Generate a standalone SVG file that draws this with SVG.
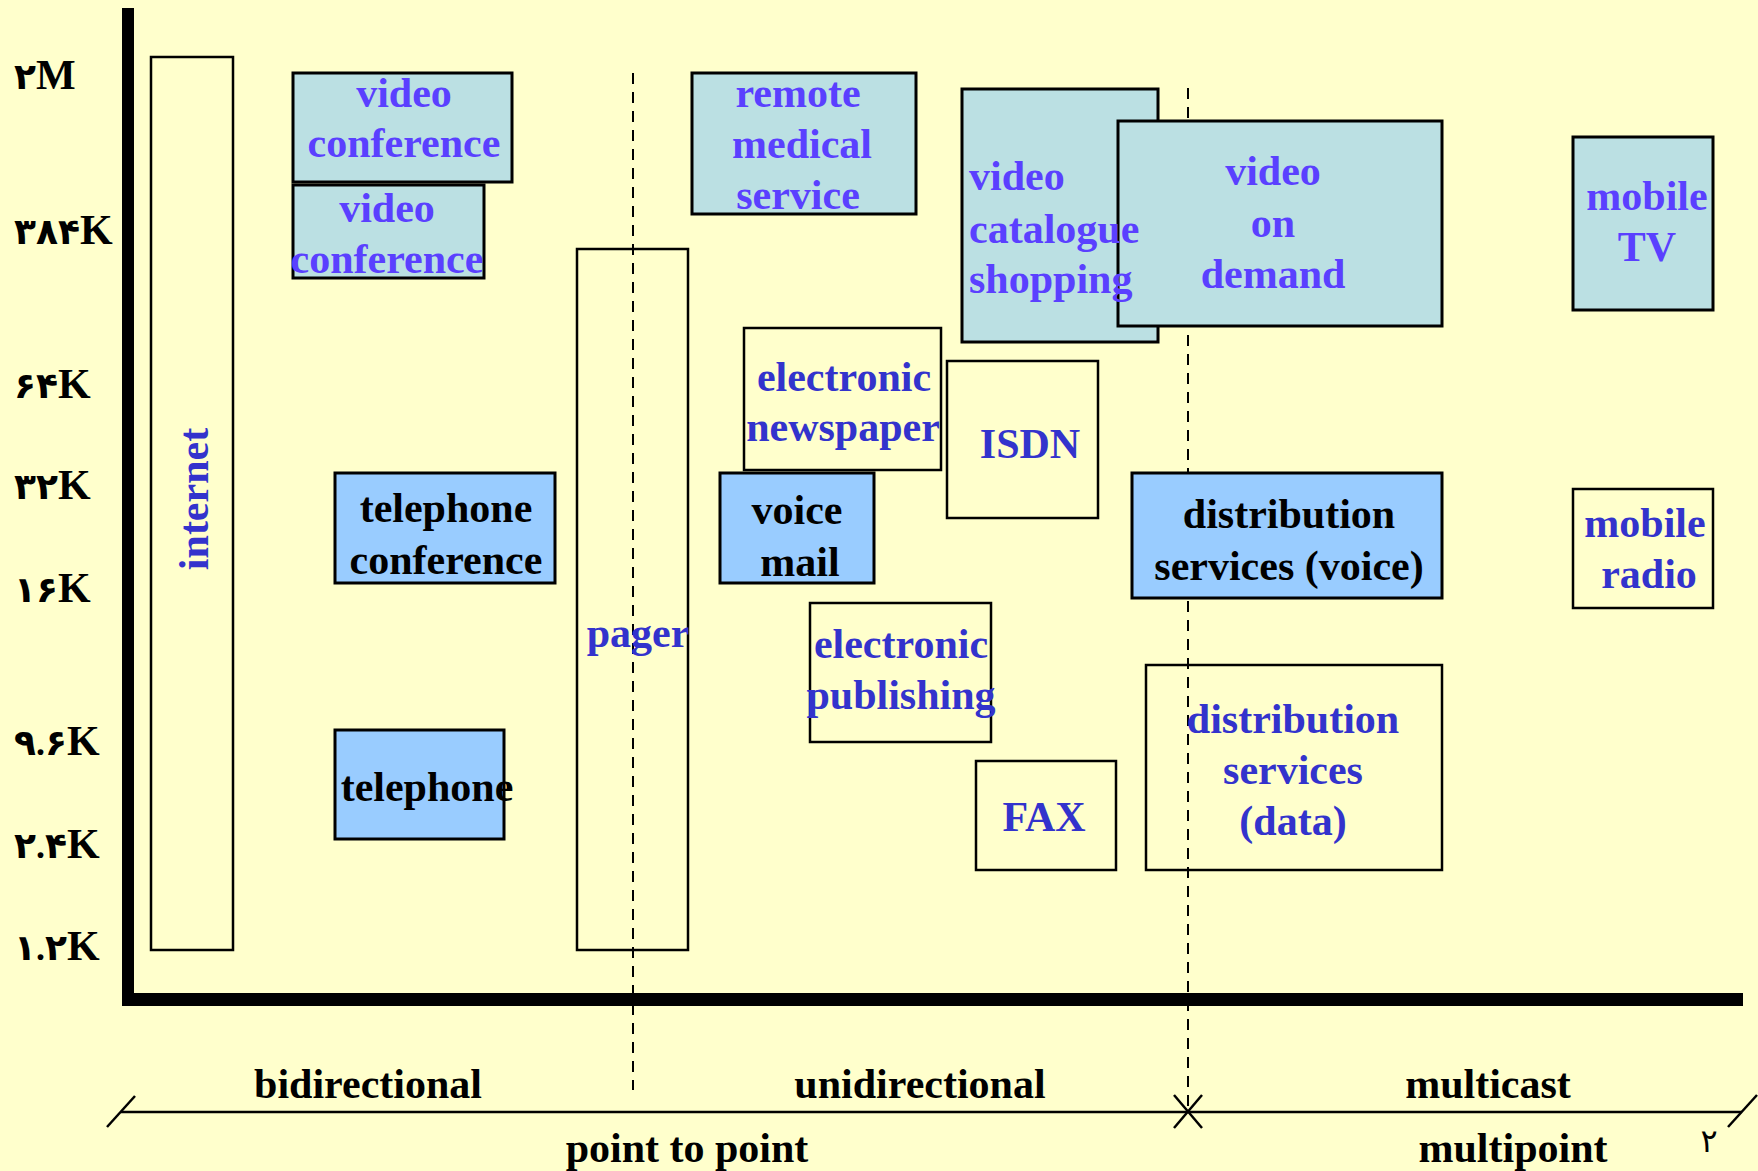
<svg xmlns="http://www.w3.org/2000/svg" width="1758" height="1171" viewBox="0 0 1758 1171">
  <style>
    text { font-family: "Liberation Serif", "DejaVu Sans", serif; font-weight: bold; font-size: 42px; }
    .c { text-anchor: middle; }
    .k { fill: #000000; }
    .b1 { fill: #5A40FF; }
    .b2 { fill: #3333CC; }
    .d { font-size: 36px; }
    .cy { fill: #BBE0E3; stroke: #000; stroke-width: 3; }
    .lb { fill: #99CCFF; stroke: #000; stroke-width: 3; }
    .pl { fill: none; stroke: #000; stroke-width: 2.5; }
    .dash { stroke: #000; stroke-width: 2; stroke-dasharray: 11 8; fill: none; }
    .thin { stroke: #000; stroke-width: 2.5; fill: none; }
  </style>

  <rect x="0" y="0" width="1758" height="1171" fill="#FFFFCC"/>

  <!-- connectors: axes, section separators and the lower scale -->
  <g id="connectors">
    <line class="dash" x1="633" y1="73" x2="633" y2="1090"/>
    <line class="dash" x1="1188" y1="88" x2="1188" y2="1110"/>
    <rect x="122" y="8" width="12" height="998" fill="#000"/>
    <rect x="122" y="993" width="1621" height="13" fill="#000"/>
    <line class="thin" x1="121" y1="1112" x2="1742" y2="1112"/>
    <line class="thin" x1="107" y1="1127" x2="135" y2="1096"/>
    <line class="thin" x1="1728" y1="1127" x2="1757" y2="1095"/>
    <line class="thin" x1="1174" y1="1095" x2="1202" y2="1128"/>
    <line class="thin" x1="1202" y1="1095" x2="1174" y2="1128"/>
  </g>

  <!-- bandwidth axis labels -->
  <g id="y-labels" class="k">
    <text x="14" y="89"><tspan class="d">۲</tspan>M</text>
    <text x="14" y="244"><tspan class="d">۳۸۴</tspan>K</text>
    <text x="14" y="398"><tspan class="d">۶۴</tspan>K</text>
    <text x="14" y="499"><tspan class="d">۳۲</tspan>K</text>
    <text x="14" y="602"><tspan class="d">۱۶</tspan>K</text>
    <text x="14" y="755"><tspan class="d">۹.۶</tspan>K</text>
    <text x="14" y="858"><tspan class="d">۲.۴</tspan>K</text>
    <text x="14" y="960"><tspan class="d">۱.۲</tspan>K</text>
  </g>

  <g id="internet">
    <rect class="pl" x="151" y="57" width="82" height="893" stroke-width="2"/>
    <text class="b2 c" transform="translate(208,499) rotate(-90)" x="0" y="0">internet</text>
  </g>

  <g id="pager">
    <rect class="pl" x="577" y="249" width="111" height="701"/>
    <text class="b2 c" x="638" y="647">pager</text>
  </g>

  <g id="video-conference-1">
    <rect class="cy" x="293" y="73" width="219" height="109"/>
    <text class="b1 c" x="404" y="107">video</text>
    <text class="b1 c" x="404" y="157">conference</text>
  </g>

  <g id="video-conference-2">
    <rect class="cy" x="293" y="185" width="191" height="93"/>
    <text class="b1 c" x="387" y="222">video</text>
    <text class="b1 c" x="387" y="273">conference</text>
  </g>

  <g id="telephone-conference">
    <rect class="lb" x="335" y="473" width="220" height="110"/>
    <text class="k c" x="446" y="522">telephone</text>
    <text class="k c" x="446" y="574">conference</text>
  </g>

  <g id="telephone">
    <rect class="lb" x="335" y="730" width="169" height="109"/>
    <text class="k c" x="427" y="801">telephone</text>
  </g>

  <g id="remote-medical-service">
    <rect class="cy" x="692" y="73" width="224" height="141"/>
    <text class="b1 c" x="798" y="107">remote</text>
    <text class="b1 c" x="802" y="158">medical</text>
    <text class="b1 c" x="798" y="209">service</text>
  </g>

  <g id="video-catalogue-shopping">
    <rect class="cy" x="962" y="89" width="196" height="253"/>
  </g>

  <g id="video-on-demand">
    <rect class="cy" x="1118" y="121" width="324" height="205"/>
    <text class="b1 c" x="1273" y="185">video</text>
    <text class="b1 c" x="1273" y="237">on</text>
    <text class="b1 c" x="1273" y="288">demand</text>
  </g>

  <!-- catalogue label sits above the overlapping video-on-demand box -->
  <g id="video-catalogue-shopping-label">
    <text class="b1" x="969" y="190">video</text>
    <text class="b1" x="969" y="243">catalogue</text>
    <text class="b1" x="969" y="293">shopping</text>
  </g>

  <g id="mobile-tv">
    <rect class="cy" x="1573" y="137" width="140" height="173"/>
    <text class="b1 c" x="1647" y="210">mobile</text>
    <text class="b1 c" x="1647" y="261">TV</text>
  </g>

  <g id="electronic-newspaper">
    <rect class="pl" x="744" y="328" width="197" height="142"/>
    <text class="b2 c" x="844" y="391">electronic</text>
    <text class="b2 c" x="843" y="441">newspaper</text>
  </g>

  <g id="isdn">
    <rect class="pl" x="947" y="361" width="151" height="157"/>
    <text class="b2 c" x="1030" y="458">ISDN</text>
  </g>

  <g id="voice-mail">
    <rect class="lb" x="720" y="473" width="154" height="110"/>
    <text class="k c" x="797" y="524">voice</text>
    <text class="k c" x="800" y="576">mail</text>
  </g>

  <g id="distribution-voice">
    <rect class="lb" x="1132" y="473" width="310" height="125"/>
    <text class="k c" x="1289" y="528">distribution</text>
    <text class="k c" x="1289" y="580">services (voice)</text>
  </g>

  <g id="mobile-radio">
    <rect class="pl" x="1573" y="489" width="140" height="119"/>
    <text class="b2 c" x="1645" y="537">mobile</text>
    <text class="b2 c" x="1649" y="588">radio</text>
  </g>

  <g id="electronic-publishing">
    <rect class="pl" x="810" y="603" width="181" height="139"/>
    <text class="b2 c" x="901" y="658">electronic</text>
    <text class="b2 c" x="901" y="709">publishing</text>
  </g>

  <g id="fax">
    <rect class="pl" x="976" y="761" width="140" height="109"/>
    <text class="b2 c" x="1044" y="831">FAX</text>
  </g>

  <g id="distribution-data">
    <rect class="pl" x="1146" y="665" width="296" height="205"/>
    <text class="b2 c" x="1293" y="733">distribution</text>
    <text class="b2 c" x="1293" y="784">services</text>
    <text class="b2 c" x="1293" y="835">(data)</text>
  </g>

  <!-- communication-type labels along the bottom -->
  <g id="x-labels" class="k c">
    <text x="368" y="1098">bidirectional</text>
    <text x="920" y="1098">unidirectional</text>
    <text x="1488" y="1098">multicast</text>
    <text x="687" y="1162">point to point</text>
    <text x="1513" y="1162">multipoint</text>
    <text x="1709" y="1152" style="font-size:32px;font-weight:normal">۲</text>
  </g>
</svg>
